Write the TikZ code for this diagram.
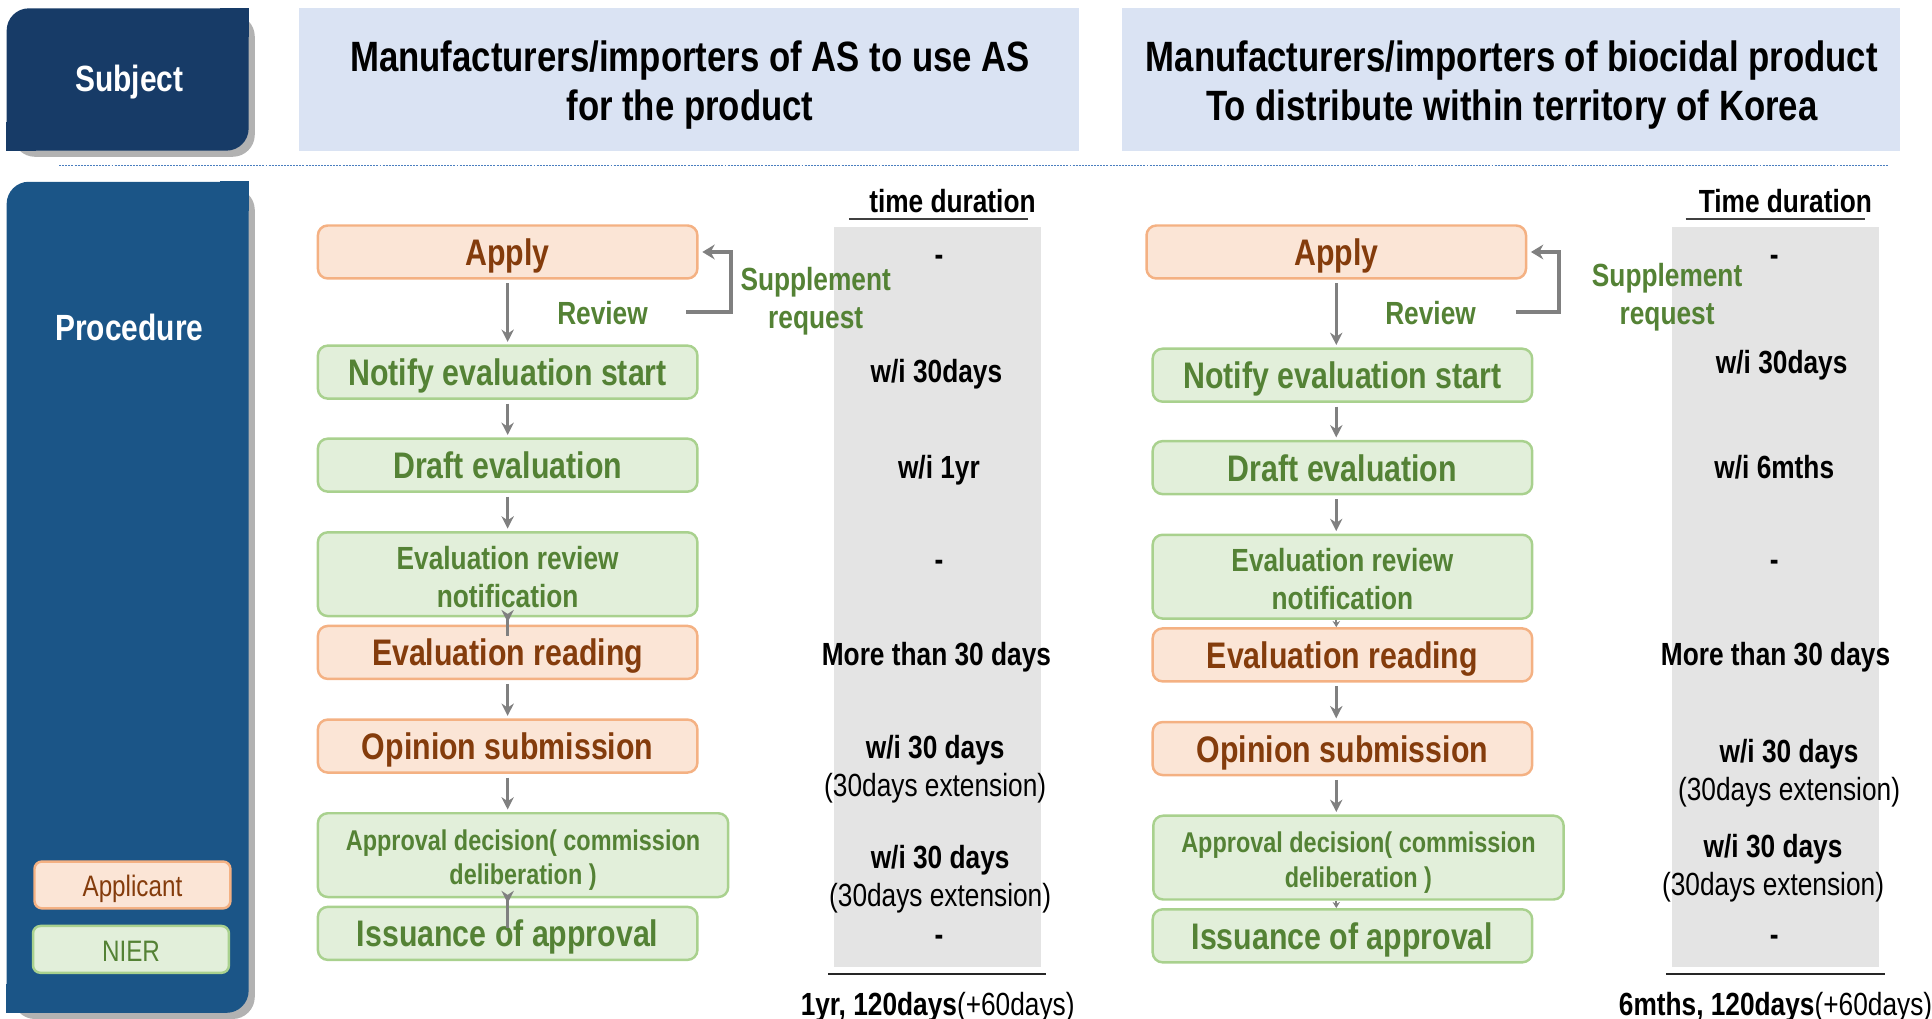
\documentclass[tikz,border=0pt]{standalone}
\usepackage{fontspec}
\setmainfont{Liberation Sans}[FakeStretch=0.82]
\usetikzlibrary{arrows.meta,shadows,calc}
\definecolor{subjcol}{HTML}{173B67}
\definecolor{proccol}{HTML}{1B5587}
\definecolor{headfill}{HTML}{DAE3F3}
\definecolor{appfill}{HTML}{FBE5D6}
\definecolor{appdraw}{HTML}{F4B183}
\definecolor{apptext}{HTML}{843C0C}
\definecolor{nierfill}{HTML}{E2EFDA}
\definecolor{nierdraw}{HTML}{A9D18E}
\definecolor{niertext}{HTML}{548235}
\definecolor{bandgray}{HTML}{E4E4E4}
\definecolor{arrgray}{HTML}{808080}
\definecolor{dotblue}{HTML}{4A7EBF}
\begin{document}
\begin{tikzpicture}[x=0.5pt,y=-0.5pt,
  sidebox/.style={rounded corners=9pt, minimum width=98.2pt, inner sep=0pt,
    drop shadow={shadow xshift=2.5pt, shadow yshift=-2.5pt, opacity=0.3, fill=black}},
  sidetext/.style={text=white, font=\fontsize{14.8}{17}\selectfont\bfseries},
  headbox/.style={fill=headfill, minimum height=57.75pt, inner sep=0pt},
  title/.style={align=center, font=\fontsize{17.2}{20.25}\selectfont\bfseries},
  appc/.style={fill=appfill, draw=appdraw, text=apptext},
  nierc/.style={fill=nierfill, draw=nierdraw, text=niertext},
  box/.style={rounded corners=4pt, line width=1pt, minimum width=154pt, minimum height=21.5pt,
    inner sep=0pt, font=\fontsize{15}{18}\selectfont\bfseries},
  one/.style={text height=1.1em, text depth=0pt},
  tall/.style={minimum height=34pt},
  smalltxt/.style={text=niertext, align=center, font=\fontsize{11.6}{14}\selectfont\bfseries},
  arr/.style={draw=arrgray, line width=1.1pt, -{Stealth[length=5pt,width=5pt]},
    shorten <=1.5pt, shorten >=1pt},
  stub/.style={draw=arrgray, line width=0.8pt, -{Stealth[length=2.5pt,width=3pt]}},
  sup/.style={draw=arrgray, line width=1.6pt, -{Stealth[length=5pt,width=6pt]}},
  lab/.style={text=niertext, font=\fontsize{13}{15.5}\selectfont\bfseries, align=center},
  dur/.style={font=\fontsize{13}{15}\selectfont\bfseries, anchor=mid},
  durtwo/.style={font=\fontsize{13}{15.3}\selectfont\bfseries, align=center},
  tot/.style={font=\fontsize{13}{15}\selectfont, anchor=base},
  legbox/.style={rounded corners=3pt, line width=1pt, minimum width=79.5pt, minimum height=19pt,
    inner sep=0pt, font=\fontsize{12}{14}\selectfont, text height=0.95em, text depth=0pt}
]
\useasboundingbox (0,0) rectangle (1568,827);

% side labels
\node[sidebox, fill=subjcol, minimum height=57.75pt] (subj) at (103.6,64.5) {};
\fill[subjcol] (subj.north east) rectangle ++(-24,24);
\fill[subjcol] (subj.south west) rectangle ++(24,-24);
\node[sidetext] (subjt) at (105,67) {Subject};
\node[sidebox, fill=proccol, minimum height=337.25pt] (proc) at (103.6,484.75) {};
\fill[proccol] (proc.north east) rectangle ++(-24,24);
\fill[proccol] (proc.south west) rectangle ++(24,-24);
\node[sidetext] (proct) at (105,266) {Procedure};

% headers
\node[headbox, minimum width=316.5pt] (headL) at (559.5,64.5) {};
\node[title] (titleL) at (560,69)
  {Manufacturers/importers of AS to use AS\\for the product};
\node[headbox, minimum width=315.5pt] (headR) at (1226.5,64.5) {};
\node[title] (titleR) at (1227,69)
  {Manufacturers/importers of biocidal product\\To distribute within territory of Korea};
\coordinate (dotA) at (48,134.5);
\coordinate (dotB) at (1532,134.5);
\draw[dotblue, line width=0.55pt, dash pattern=on 0.8pt off 0.45pt] (dotA) -- (dotB);

% time bands
\fill[bandgray] (677,184) rectangle (845,785);
\fill[bandgray] (1356.6,184) rectangle (1524.8,785);
\node[font=\fontsize{13}{15}\selectfont\bfseries, anchor=base] (tdL) at (773,172.5) {time duration};
\node[font=\fontsize{13}{15}\selectfont\bfseries, anchor=base] (tdR) at (1449,172.5) {Time duration};
\draw[black!75, line width=0.9pt] (689,177.8) -- (834,177.8);
\draw[black!75, line width=0.9pt] (1368,177.8) -- (1514,177.8);
\draw[black!85, line width=0.9pt] (672,790.5) -- (849,790.5);
\draw[black!85, line width=0.9pt] (1352,790.5) -- (1530,790.5);
\node[tot] (totL) at (761,824) {\textbf{1yr, 120days}(+60days)};
\node[tot] (totR) at (1441,824) {\textbf{6mths, 120days}(+60days)};

% left flow
\node[box, one, appc] (LA) at (412,204.5) {Apply};
\node[box, one, nierc] (LN) at (412,302) {Notify evaluation start};
\node[box, one, nierc] (LD) at (412,377.5) {Draft evaluation};
\node[box, tall, nierc] (LR) at (412,466) {};
\node[lab] (LRt) at (412,468) {Evaluation review\\notification};
\node[box, one, appc] (LE) at (412,529.5) {Evaluation reading};
\node[box, one, appc] (LO) at (412,605.5) {Opinion submission};
\node[box, tall, nierc, minimum width=166.5pt] (LP) at (424.5,694) {};
\node[smalltxt] (LPt) at (424.5,698) {Approval decision( commission\\deliberation )};
\node[box, one, nierc] (LI) at (412,757.5) {Issuance of approval};

\draw[arr] (LA) -- (LN);
\draw[arr] (LN) -- (LD);
\draw[arr] (LD) -- (LR);
\draw[arr, shorten <=-7.5pt] (LR.south) -- (LE.north);
\draw[arr] (LE) -- (LO);
\draw[arr] (LO.south) -- (LO.south |- LP.north);
\draw[arr, shorten <=-12pt] (LI.north |- LP.south) -- (LI.north);

\node[lab] (LRev) at (489,254) {Review};
\node[lab] (LSup) at (662,244.5) {Supplement\\request};
\coordinate (LS) at (557,253);
\draw[sup] (LS) -- ++(36,0) |- ([xshift=1.5pt]LA.east);

% right flow
\node[box, one, appc] (RA) at (1084.5,204.5) {Apply};
\node[box, one, nierc] (RN) at (1089.5,304.5) {Notify evaluation start};
\node[box, one, nierc] (RD) at (1089.5,379.5) {Draft evaluation};
\node[box, tall, nierc] (RR) at (1089.5,468) {};
\node[lab] (RRt) at (1089.5,470) {Evaluation review\\notification};
\node[box, one, appc] (RE) at (1089.5,531.5) {Evaluation reading};
\node[box, one, appc] (RO) at (1089.5,607.5) {Opinion submission};
\node[box, tall, nierc, minimum width=166.5pt] (RP) at (1102.5,696) {};
\node[smalltxt] (RPt) at (1102.5,700) {Approval decision( commission\\deliberation )};
\node[box, one, nierc] (RI) at (1089.5,759.5) {Issuance of approval};

\draw[arr] (RA.south) -- (RA.south |- RN.north);
\draw[arr] (RN.south -| RA.south) -- (RD.north -| RA.south);
\draw[arr] (RD.south -| RA.south) -- (RR.north -| RA.south);
\draw[stub] (RR.south -| RA.south) -- (RE.north -| RA.south);
\draw[arr] (RE.south -| RA.south) -- (RO.north -| RA.south);
\draw[arr] (RO.south -| RA.south) -- (RP.north -| RA.south);
\draw[stub] (RP.south -| RA.south) -- (RI.north -| RA.south);

\node[lab] (RRev) at (1161,254) {Review};
\node[lab] (RSup) at (1353,241) {Supplement\\request};
\coordinate (RS) at (1230,253);
\draw[sup] (RS) -- ++(35,0) |- ([xshift=1.5pt]RA.east);

% durations left
\node[dur] (dL1) at (762,210) {-};
\node[dur] (dL2) at (760,305) {w/i 30days};
\node[dur] (dL3) at (762,383) {w/i 1yr};
\node[dur] (dL4) at (762,458) {-};
\node[dur] (dL5) at (760,535) {More than 30 days};
\node[durtwo] (dL6) at (759,624) {w/i 30 days\\\mdseries(30days extension)};
\node[durtwo] (dL7) at (763,713.5) {w/i 30 days\\\mdseries(30days extension)};
\node[dur] (dL8) at (762,762) {-};

% durations right
\node[dur] (dR1) at (1440,210) {-};
\node[dur] (dR2) at (1446,298) {w/i 30days};
\node[dur] (dR3) at (1440,383) {w/i 6mths};
\node[dur] (dR4) at (1440,458) {-};
\node[dur] (dR5) at (1441,535) {More than 30 days};
\node[durtwo] (dR6) at (1452,627.5) {w/i 30 days\\\mdseries(30days extension)};
\node[durtwo] (dR7) at (1439,704.5) {w/i 30 days\\\mdseries(30days extension)};
\node[dur] (dR8) at (1440,762) {-};

% legend
\node[legbox, appc] (legA) at (107.5,718.2) {Applicant};
\node[legbox, nierc] (legN) at (106.3,770.5) {NIER};
\end{tikzpicture}
\end{document}
